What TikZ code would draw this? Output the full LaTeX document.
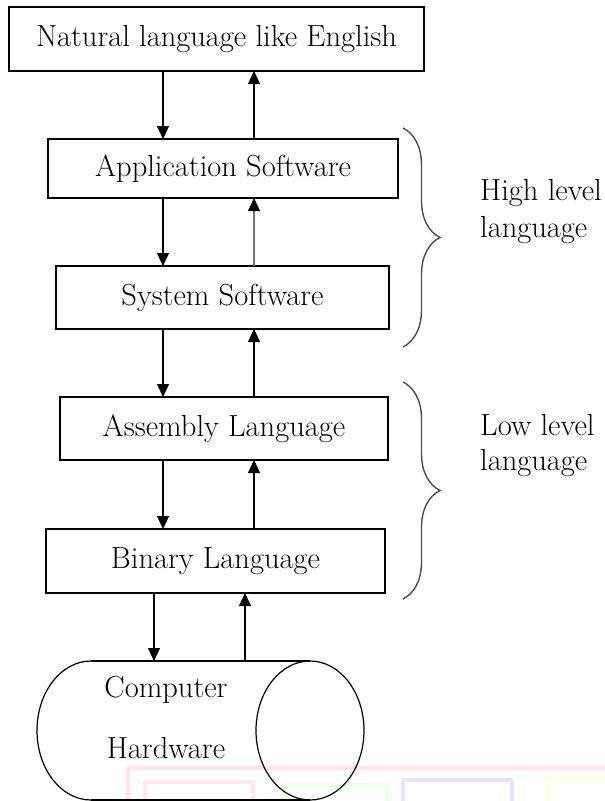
\documentclass[tikz,border=0pt]{standalone}
\usetikzlibrary{arrows.meta,decorations.pathreplacing}
\begin{document}
\begin{tikzpicture}[x=1pt,y=-1pt,
  box/.style={draw=black,line width=1.2pt,inner sep=0pt,outer sep=0pt,font=\fontsize{30.5}{36}\selectfont},
  lbl/.style={inner sep=0pt,font=\fontsize{30.5}{36}\selectfont},
  arr/.style={line width=1.2pt,-{Triangle[width=12pt,length=13pt]}},
  brc/.style={draw=black!70,line width=1.4pt,decorate,decoration={brace,amplitude=37pt}},
  wm/.style={line width=3.5pt,line join=round}]
\useasboundingbox (0,0) rectangle (605,801);
% watermark (faint)
\draw[wm,red!10] (128,801) -- (128,768) -- (605,768);
\draw[wm,red!9] (145,801) -- (145,782) -- (253,782) -- (253,801);
\draw[wm,green!8] (285,801) -- (285,785) -- (387,785) -- (387,801);
\draw[wm,blue!10] (403,801) -- (403,780) -- (512,780) -- (512,801);
\draw[wm,yellow!12] (547,801) -- (547,778) -- (605,778);
% boxes
\node[box,minimum width=415pt,minimum height=64pt] (nat) at (216.5,39) {Natural language like English};
\node[box,minimum width=350pt,minimum height=59pt] (app) at (223,168.5) {Application Software};
\node[box,minimum width=333pt,minimum height=63pt] (sys) at (222.5,297.5) {System Software};
\node[box,minimum width=328pt,minimum height=63pt] (asm) at (224,428.5) {Assembly Language};
\node[box,minimum width=339pt,minimum height=64pt] (bin) at (215.5,561) {Binary Language};
% cylinder
\draw[line width=1.2pt] (91,661) -- (310,661) (91,800) -- (310,800);
\draw[line width=1.2pt] (91,661) arc[start angle=90,end angle=270,x radius=54,y radius=-69.5];
\draw[line width=1.2pt] (310,730.5) ellipse[x radius=54,y radius=69.5];
\coordinate (hw) at (200,661);
\node[lbl,anchor=base] (comp) at (166,697) {Computer};
\node[lbl,anchor=base] (hard) at (166,758) {Hardware};
% arrow columns
\coordinate (d) at (163,0);
\coordinate (u) at (254,0);
\coordinate (d2) at (154,0);
\coordinate (u2) at (245,0);
\draw[arr] (nat.south -| d) -- (app.north -| d);
\draw[arr] (app.north -| u) -- (nat.south -| u);
\draw[arr] (app.south -| d) -- (sys.north -| d);
\draw[line width=1.2pt,draw=black!55,-{Triangle[width=12pt,length=13pt,color=black]}] (sys.north -| u) -- (app.south -| u);
\draw[arr] (sys.south -| d) -- (asm.north -| d);
\draw[arr] (asm.north -| u) -- (sys.south -| u);
\draw[arr] (asm.south -| d) -- (bin.north -| d);
\draw[arr] (bin.north -| u) -- (asm.south -| u);
\draw[arr] (bin.south -| d2) -- (hw -| d2);
\draw[arr] (hw -| u2) -- (bin.south -| u2);
% braces
\draw[brc] (403,128) -- (403,347);
\draw[brc] (403,382) -- (403,599);
\node[lbl,anchor=base west] (hl1) at (480,200.7) {High level};
\node[lbl,anchor=base west] (hl2) at (480,237) {language};
\node[lbl,anchor=base west] (ll1) at (480,435) {Low level};
\node[lbl,anchor=base west] (ll2) at (480,470) {language};
\end{tikzpicture}
\end{document}
